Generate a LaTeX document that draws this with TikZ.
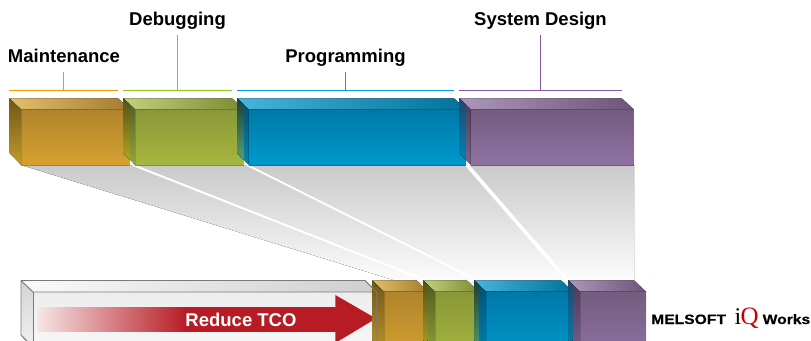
\documentclass[tikz,border=0pt]{standalone}
\usepackage{fontspec}
\setmainfont{Liberation Sans}
\newfontfamily\wideface[FakeStretch=1.15,FakeBold=0.4]{Liberation Sans}
\newfontfamily\serifface{Liberation Serif}
\definecolor{oft}{HTML}{AF842C}\definecolor{ofb}{HTML}{D5A130}\definecolor{otl}{HTML}{E3BF6C}\definecolor{otm}{HTML}{DBA52F}\definecolor{otr}{HTML}{A27C2D}\definecolor{ost}{HTML}{6F5719}\definecolor{osb}{HTML}{C29A2C}\definecolor{oln}{HTML}{AE842A}\definecolor{obr}{HTML}{F39800}
\definecolor{gft}{HTML}{8A9738}\definecolor{gfb}{HTML}{A6B73F}\definecolor{gtl}{HTML}{C3D17E}\definecolor{gtm}{HTML}{A9B940}\definecolor{gtr}{HTML}{7C8A33}\definecolor{gst}{HTML}{505A22}\definecolor{gsb}{HTML}{93A63A}\definecolor{gln}{HTML}{84922F}\definecolor{gbr}{HTML}{8FC31F}
\definecolor{bft}{HTML}{0079A8}\definecolor{bfb}{HTML}{0098CC}\definecolor{btl}{HTML}{47B4DB}\definecolor{btm}{HTML}{0099CC}\definecolor{btr}{HTML}{00729B}\definecolor{bst}{HTML}{004E70}\definecolor{bsb}{HTML}{0087B6}\definecolor{bln}{HTML}{0078A2}\definecolor{bbr}{HTML}{00A0E0}
\definecolor{pft}{HTML}{745C80}\definecolor{pfb}{HTML}{8F72A3}\definecolor{ptl}{HTML}{AC96BA}\definecolor{ptm}{HTML}{8F72A3}\definecolor{ptr}{HTML}{6C5577}\definecolor{pst}{HTML}{4A3A55}\definecolor{psb}{HTML}{7C6390}\definecolor{pln}{HTML}{6E5680}\definecolor{pbr}{HTML}{8957A1}
\definecolor{gotop}{HTML}{55501C}\definecolor{gobot}{HTML}{B9AC1F}
\definecolor{bgtop}{HTML}{1E3F3A}\definecolor{bgbot}{HTML}{5AA870}
\definecolor{pbtop}{HTML}{1F4A6C}\definecolor{pbbot}{HTML}{0085B8}
\definecolor{arrowred}{HTML}{B71C25}
\definecolor{arrowpale}{HTML}{F6E6E7}
\pgfdeclarehorizontalshading{shaftfade}{100bp}{color(0bp)=(arrowpale); color(25bp)=(arrowpale); color(50bp)=(arrowred); color(100bp)=(arrowred)}
\tikzset{
  label text/.style={font=\fontsize{18.5}{20}\selectfont\bfseries,anchor=base,text=black,inner sep=0pt},
  fan line/.style={white,line width=2pt},
  logo text/.style={font=\wideface\fontsize{13.6}{15}\selectfont\bfseries,anchor=base west,inner sep=0pt,text=black},
}
% #1 prefix, #2 xb, #3 xf, #4 xr, #5 xbr, #6 yb, #7 yf, #8 ybot
\newcommand{\blockcube}[8]{%
  \fill[top color=#1ft,bottom color=#1fb] (#3,#7) rectangle (#4,#8);
  \fill[left color=#1tl,middle color=#1tm,right color=#1tr] (#2,#6) -- (#5,#6) -- (#4,#7) -- (#3,#7) -- cycle;
  \fill[top color=#1st,bottom color=#1sb] (#2,#6) -- (#3,#7) -- (#3,#8) -- (#2,{#8-12}) -- cycle;
  \draw[#1ln,line width=.6pt] (#3,#8) -- (#4,#8);
  \draw[#1ft!80!black,line width=.5pt] (#3,#7) -- (#4,#7);
}
% side area lying over the previous block: #1 xb #2 xf #3 prev right #4 yb #5 yf #6 ybot #7 #8 colours
\newcommand{\overlapside}[8]{%
  \begin{scope}
    \clip (#1,#4) -- (#2,#5) -- (#2,#6) -- (#1,{#6-12}) -- cycle;
    \fill[top color=#7,bottom color=#8] (#1,#4) rectangle (#3,#6);
  \end{scope}
}
\begin{document}
\begin{tikzpicture}[x=1pt,y=-1pt]
\useasboundingbox (0,0) rectangle (811,340);
\clip (0,0) rectangle (811,340);

% fan of shadow
\fill[top color=black!21,bottom color=black!1] (21,165) -- (634,165) -- (634,282) -- (400,282) -- cycle;
\coordinate (fa1) at (133,165); \coordinate (fa2) at (425,280);
\coordinate (fb1) at (247,165); \coordinate (fb2) at (477,280);
\coordinate (fc1) at (467,165); \coordinate (fc2) at (567,280);
\draw[fan line] (fa1) -- (fa2);
\draw[fan line] (fb1) -- (fb2);
\draw[fan line,line width=3.6pt] (fc1) -- (fc2);

% brackets and labels
\node[label text] (maint) at (64,62) {Maintenance};
\node[label text] (debug) at (177.5,25.3) {Debugging};
\node[label text] (prog) at (345.5,62) {Programming};
\node[label text] (sysd) at (540.5,25.3) {System Design};

\foreach \n/\c/\l/\r/\m/\t in {a/obr/9/118/63.5/72,b/gbr/123/232/177.5/35,c/bbr/237/454/345.7/72,d/pbr/459.3/622/540.5/35}{
  \coordinate (\n l) at (\l,90.4);
  \coordinate (\n r) at (\r,90.4);
  \coordinate (\n m) at (\m,90.4);
  \coordinate (\n t) at (\m,\t);
  \draw[\c,line width=1.3pt] (\n l) -- (\n r);
  \draw[\c,line width=1.3pt] (\n t) -- (\n m);
}

% top row
\blockcube{o}{9.3}{21}{130}{118}{98.3}{109.3}{164.8}
\blockcube{g}{123.3}{135}{244}{232}{98.3}{109.3}{164.8}
\overlapside{123.3}{135}{130}{98.3}{109.3}{164.8}{gotop}{gobot}
\blockcube{b}{237}{248.7}{466}{454}{98.3}{109.3}{164.8}
\overlapside{237}{248.7}{244}{98.3}{109.3}{164.8}{bgtop}{bgbot}
\blockcube{p}{459.3}{470.7}{633.7}{621.7}{98.3}{109.3}{164.8}
\overlapside{459.3}{470.7}{466}{98.3}{109.3}{164.8}{pbtop}{pbbot}

% white box
\fill[top color=black!17,bottom color=black!5] (21,280.5) -- (33,292) -- (33,350) -- (21,335) -- cycle;
\fill[left color=black!2,right color=black!19] (21,280.5) -- (365,280.5) -- (376.7,292) -- (33,292) -- cycle;
\fill[top color=black!7,bottom color=black!3] (33,292) rectangle (376.7,350);
\draw[black!52,line width=.9pt,line join=round] (21,335) -- (21,280.5) -- (365,280.5) -- (376.7,292) -- (33,292) -- (21,280.5);
\draw[black!52,line width=.9pt] (33,292) -- (33,350);
\draw[black!52,line width=.9pt] (21,335) -- (33,347);

% arrow
\shade[shading=shaftfade] (37,307.3) rectangle (335.5,331);
\fill[arrowred] (335.3,295) -- (376,318.5) -- (335.3,343) -- cycle;
\node[label text,text=white] (tco) at (241,326.4) {Reduce TCO};

% bottom row
\blockcube{o}{372.3}{384}{427.7}{416.7}{280.3}{291.7}{360}
\draw[black!52,line width=.8pt] (371,286) -- (376.7,292) -- (376.7,340);
\blockcube{g}{423.3}{435}{479}{466.7}{280.3}{291.7}{360}
\overlapside{423.3}{435}{427.7}{280.3}{291.7}{360}{gotop}{gobot}
\blockcube{b}{474.3}{486}{572.7}{561}{280.3}{291.7}{360}
\overlapside{474.3}{486}{479}{280.3}{291.7}{360}{bgtop}{bgbot}
\blockcube{p}{568.3}{580}{646}{634}{280.3}{291.7}{360}
\overlapside{568.3}{580}{572.7}{280.3}{291.7}{360}{pbtop}{pbbot}

% logo
\node[logo text] (mel) at (651,324) {MELSOFT};
\node[anchor=base west,inner sep=0pt,font=\serifface\fontsize{24}{26}\selectfont] (ii) at (734.5,324) {i};
\node[anchor=base west,inner sep=0pt,text=red!80!black,font=\serifface\fontsize{25}{27}\selectfont] (qq) at (740.5,324) {Q};
\node[logo text] (wk) at (762.5,324) {Works};
\end{tikzpicture}
\end{document}
